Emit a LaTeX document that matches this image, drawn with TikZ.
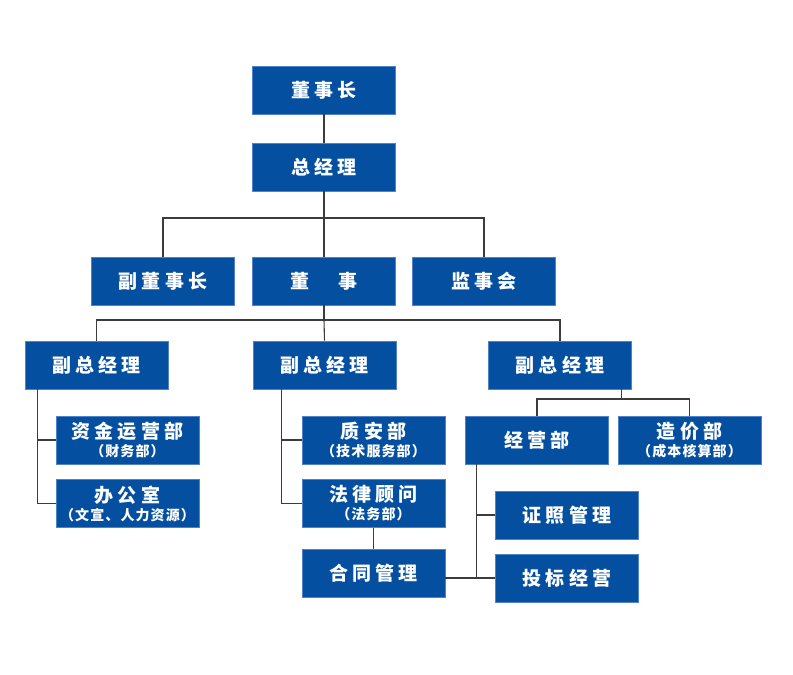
\documentclass[tikz,border=0pt]{standalone}
\usepackage{fontspec}
\usetikzlibrary{calc}
\newfontfamily\cjk{Noto Sans CJK SC}
\definecolor{boxblue}{RGB}{4,79,160}
\definecolor{boxedge}{RGB}{80,130,200}
\definecolor{linegray}{RGB}{60,60,60}
\newcommand{\mainf}{\cjk\bfseries\fontsize{19}{21}\selectfont\addfontfeature{LetterSpace=22}}
\newcommand{\subf}{\cjk\bfseries\fontsize{14}{15}\selectfont\addfontfeature{LetterSpace=8}}
\begin{document}
\begin{tikzpicture}[x=1pt,y=-1pt,
  orgbox/.style={fill=boxblue, draw=boxedge, line width=0.6pt, minimum width=143pt,
    minimum height=48pt, inner sep=0pt, text=white, font=\mainf, align=center},
  conn/.style={draw=linegray, line width=1.1pt}]
\useasboundingbox (0,0) rectangle (793,675);
% top
\node[orgbox] (dsz) at (324,90) {董事长};
\node[orgbox] (zjl) at (324,167) {总经理};
\node[orgbox] (fdsz) at (163,281) {副董事长};
\node[orgbox] (ds) at (324,281) {董\hspace{1.5em}事};
\node[orgbox] (jsh) at (484,281) {监事会};
% vice GMs
\node[orgbox] (fz1) at (96.5,365) {副总经理};
\node[orgbox] (fz2) at (324.5,365) {副总经理};
\node[orgbox] (fz3) at (560,365) {副总经理};
% left column
\node[orgbox] (zjyy) at (127.5,440) {资金运营部\\[-3pt]{\subf （财务部）}};
\node[orgbox] (bgs) at (127.5,503.5) {办公室\\[-3pt]{\subf （文宣、人力资源）}};
% middle column
\node[orgbox] (zab) at (373.5,440) {质安部\\[-3pt]{\subf （技术服务部）}};
\node[orgbox] (flgw) at (373.5,503.5) {法律顾问\\[-3pt]{\subf （法务部）}};
\node[orgbox] (htgl) at (373.5,573) {合同管理};
% right column
\node[orgbox] (jyb) at (537,440) {经营部};
\node[orgbox] (zjb) at (689.5,440) {造价部\\[-3pt]{\subf （成本核算部）}};
\node[orgbox] (zzgl) at (567,515) {证照管理};
\node[orgbox] (tbjy) at (567,578) {投标经营};
% coordinates
\coordinate (bus1) at (324,218);
\coordinate (bus2) at (324,320);
\coordinate (t1) at ($(fz1.south west)+(13,0)$);
\coordinate (t2) at ($(fz2.south west)+(29,0)$);
\coordinate (t3) at ($(fz3.south east)+(-10,0)$);
\coordinate (bus3) at (560,399);
\coordinate (t4) at ($(jyb.south west)+(11,0)$);
% connectors
\draw[conn] (dsz.south) -- (zjl.north);
\draw[conn] (zjl.south) -- (ds.north);
\draw[conn] (fdsz.north) -- (fdsz.north |- bus1) -- (jsh.north |- bus1) -- (jsh.north);
\draw[conn] (ds.south) -- (bus2);
\draw[conn] (fz1.north) -- (fz1.north |- bus2) -- (fz3.north |- bus2) -- (fz3.north);
\draw[conn] (bus2) -- (fz2.north);
\draw[conn] (t1) -- (t1 |- bgs.west) -- (bgs.west);
\draw[conn] (t1 |- zjyy.west) -- (zjyy.west);
\draw[conn] (t2) -- (t2 |- flgw.west) -- (flgw.west);
\draw[conn] (t2 |- zab.west) -- (zab.west);
\draw[conn] (flgw.south) -- (htgl.north);
\draw[conn] (t3) -- (t3 |- bus3);
\draw[conn] (jyb.north) -- (jyb.north |- bus3) -- (zjb.north |- bus3) -- (zjb.north);
\draw[conn] (t4) -- (t4 |- tbjy.west) -- (tbjy.west);
\draw[conn] (t4 |- zzgl.west) -- (zzgl.west);
\draw[conn] (htgl.east |- tbjy.west) -- (t4 |- tbjy.west);
\end{tikzpicture}
\end{document}
